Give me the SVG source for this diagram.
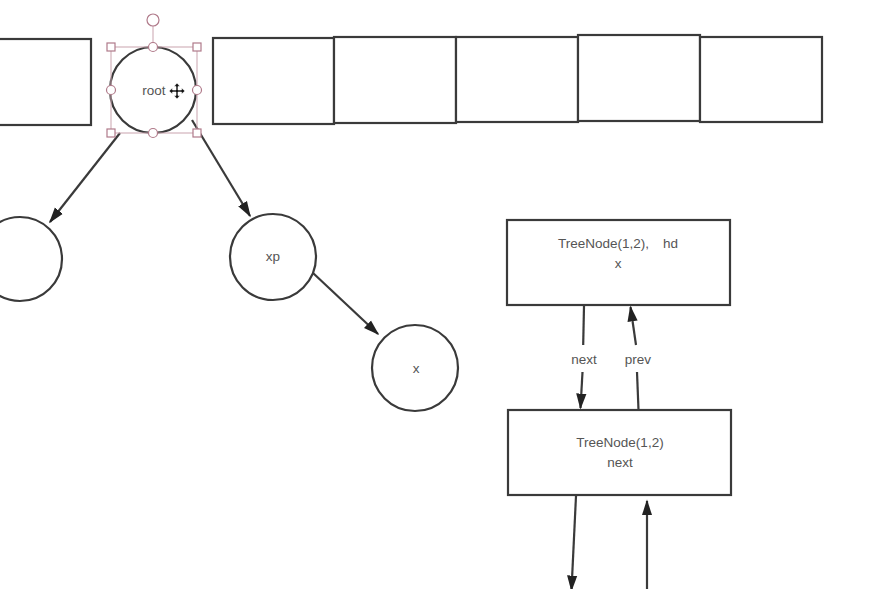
<svg xmlns="http://www.w3.org/2000/svg" width="874" height="589" viewBox="0 0 874 589">
<style>
.box{fill:#fff;stroke:#3a3a3a;stroke-width:2.2}
.edge{fill:none;stroke:#3a3a3a;stroke-width:2.2}
.t{font-family:"Liberation Sans",Arial,sans-serif;font-size:13.5px;fill:#555;text-anchor:middle}
.sel{fill:#fff;stroke:#b07a8a;stroke-width:1.2}
.selline{fill:none;stroke:#c9a3ae;stroke-width:1}
</style>
<defs>
<marker id="ahL" viewBox="0 0 10 10" refX="9" refY="5" markerWidth="16" markerHeight="16" markerUnits="userSpaceOnUse" orient="auto">
<path d="M0,1.8 L10,5 L0,8.2 z" fill="#222"/>
</marker>
</defs>
<rect width="874" height="589" fill="#fff"/>
<g id="array">
<rect class="box" x="-10" y="39" width="101" height="86"/>
<rect class="box" x="213" y="38" width="121" height="86"/>
<rect class="box" x="334" y="37" width="122" height="86"/>
<rect class="box" x="456" y="37" width="122" height="85"/>
<rect class="box" x="578" y="35" width="122" height="86"/>
<rect class="box" x="700" y="37" width="122" height="85"/>
</g>
<g id="connectors">
<line class="edge" x1="120" y1="133" x2="50" y2="222" marker-end="url(#ahL)"/>
<line class="edge" x1="192" y1="120" x2="250" y2="216" marker-end="url(#ahL)"/>
<line class="edge" x1="313" y1="273" x2="378" y2="334" marker-end="url(#ahL)"/>
<line class="edge" x1="584" y1="306" x2="583.2" y2="345"/>
<line class="edge" x1="582.5" y1="372" x2="580.5" y2="408" marker-end="url(#ahL)"/>
<line class="edge" x1="638.5" y1="410" x2="637" y2="372"/>
<line class="edge" x1="636" y1="345" x2="630.5" y2="307" marker-end="url(#ahL)"/>
<text class="t" x="584" y="364">next</text>
<text class="t" x="638" y="364">prev</text>
<line class="edge" x1="576" y1="496" x2="571.5" y2="590" marker-end="url(#ahL)"/>
<line class="edge" x1="647" y1="589" x2="647" y2="501" marker-end="url(#ahL)"/>
</g>
<g id="root">
<circle class="box" cx="153" cy="90" r="43"/>
<text class="t" x="154" y="95">root</text>
<rect class="selline" x="111" y="47" width="86" height="86"/>
<line class="selline" x1="153" y1="26" x2="153" y2="47"/>
<circle class="sel" cx="153" cy="20" r="6"/>
<rect class="sel" x="107" y="43" width="8" height="8"/>
<rect class="sel" x="193" y="43" width="8" height="8"/>
<rect class="sel" x="107" y="129" width="8" height="8"/>
<rect class="sel" x="193" y="129" width="8" height="8"/>
<circle class="sel" cx="153" cy="47" r="4.5"/>
<circle class="sel" cx="153" cy="133" r="4.5"/>
<circle class="sel" cx="111" cy="90" r="4.5"/>
<circle class="sel" cx="197" cy="90" r="4.5"/>
<path d="M177,83 l-3,3.5 h2 v3.5 h-3.5 v-2 l-3.5,3 l3.5,3 v-2 h3.5 v3.5 h-2 l3,3.5 l3,-3.5 h-2 v-3.5 h3.5 v2 l3.5,-3 l-3.5,-3 v2 h-3.5 v-3.5 h2 z" fill="#111" stroke="#fff" stroke-width="0.6"/>
</g>
<g id="left">
<circle class="box" cx="20" cy="259" r="42"/>
</g>
<g id="xp">
<circle class="box" cx="273" cy="257" r="43"/>
<text class="t" x="273" y="261">xp</text>
</g>
<g id="x">
<circle class="box" cx="415" cy="368" r="43"/>
<text class="t" x="416" y="373">x</text>
</g>
<g id="tn1">
<rect class="box" x="507" y="220" width="223" height="85"/>
<text class="t" x="618" y="248">TreeNode(1,2),　hd</text>
<text class="t" x="618" y="268">x</text>
</g>
<g id="tn2">
<rect class="box" x="508" y="410" width="223" height="85"/>
<text class="t" x="620" y="447">TreeNode(1,2)</text>
<text class="t" x="620" y="467">next</text>
</g>
</svg>
